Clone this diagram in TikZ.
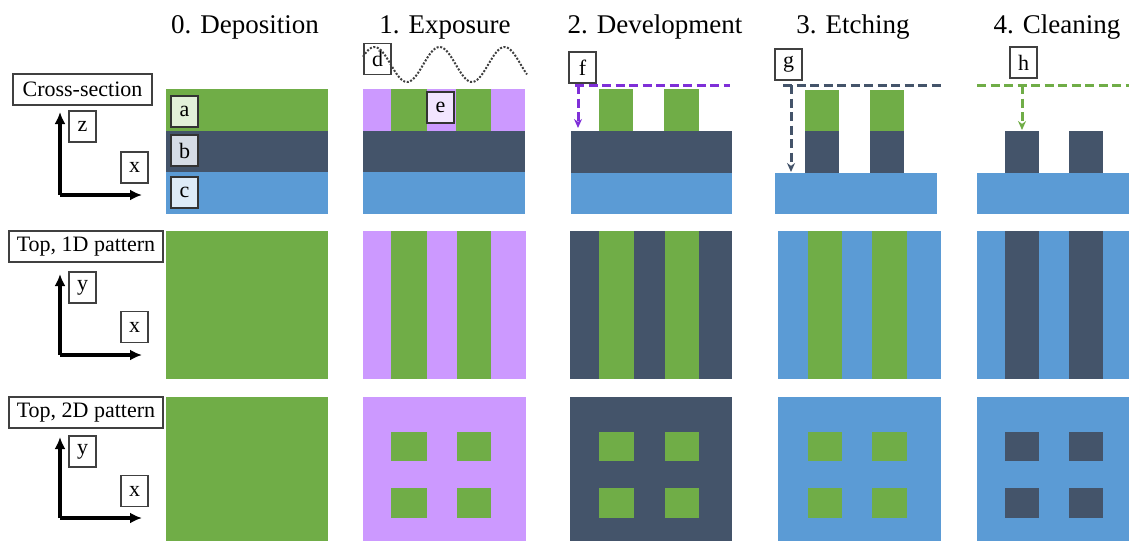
\documentclass[tikz,border=0pt]{standalone}
\usepackage{fontspec}
\setmainfont{Liberation Serif}
\usetikzlibrary{arrows.meta}
\definecolor{cgreen}{HTML}{70AD47}
\definecolor{cslate}{HTML}{44546A}
\definecolor{cblue}{HTML}{5B9BD5}
\definecolor{cpurple}{HTML}{CC99FF}
\definecolor{cviolet}{HTML}{7F2FD8}
\definecolor{boxline}{HTML}{404040}
\definecolor{afill}{HTML}{E2F0D9}
\definecolor{bfill}{HTML}{D6DCE5}
\definecolor{cfill}{HTML}{DEEBF7}
\definecolor{efill}{HTML}{F2E5FF}
\tikzset{
  coltitle/.style={anchor=base, font=\fontsize{27}{30}\selectfont, inner sep=0pt},
  rowlabel/.style={draw=boxline, line width=1.6pt, fill=white, minimum height=31pt, inner sep=0pt, font=\fontsize{22}{24}\selectfont},
  letterbox/.style={draw=boxline, line width=1.6pt, fill=white, minimum width=27pt, minimum height=31pt, inner sep=0pt, font=\fontsize{22}{24}\selectfont},
  layerbox/.style={letterbox, draw=black!80, line width=2pt},
  axisarrow/.style={line width=3.5pt, -{Latex[length=12pt,width=11pt]}},
  processarrow/.style={line width=3pt, dash pattern=on 9pt off 4.5pt, -{Stealth[length=9pt,width=8pt]}},
  processline/.style={line width=3pt, dash pattern=on 9pt off 4.5pt},
  wave/.style={line width=2pt, black!75, dash pattern=on 2pt off 1.6pt}
}
\begin{document}
\begin{tikzpicture}[x=1pt,y=-1pt]
\useasboundingbox (0,0) rectangle (1129,541);

% column titles
\node[coltitle] (t0) at (245,33) {0. Deposition};
\node[coltitle] (t1) at (445,33) {1. Exposure};
\node[coltitle] (t2) at (655,33) {2. Development};
\node[coltitle] (t3) at (853,33) {3. Etching};
\node[coltitle] (t4) at (1057,33) {4. Cleaning};

% ---------- row 1: cross-section ----------
% col 0
\fill[cgreen] (166,89) rectangle (328,131);
\fill[cslate] (166,131) rectangle (328,172);
\fill[cblue]  (166,172) rectangle (328,214);
% col 1
\fill[cpurple] (363,89) rectangle (525,131);
\fill[cgreen] (391,89) rectangle (427,131);
\fill[cgreen] (456,89) rectangle (491,131);
\fill[cslate] (363,131) rectangle (525,172);
\fill[cblue]  (363,172) rectangle (525,214);
% col 2
\fill[cgreen] (599,89) rectangle (633,131);
\fill[cgreen] (664,89) rectangle (699,131);
\fill[cslate] (571,131) rectangle (732,173);
\fill[cblue]  (571,173) rectangle (732,214);
% col 3
\fill[cgreen] (805,90) rectangle (839,131);
\fill[cgreen] (870,90) rectangle (904,131);
\fill[cslate] (805,131) rectangle (839,173);
\fill[cslate] (870,131) rectangle (904,173);
\fill[cblue]  (775,173) rectangle (937,214);
% col 4
\fill[cslate] (1005,131) rectangle (1039,173);
\fill[cslate] (1069,131) rectangle (1103,173);
\fill[cblue]  (977,173) rectangle (1129,214);

% ---------- row 2: top, 1D ----------
\fill[cgreen] (166,231) rectangle (328,379);
\fill[cpurple] (363,231) rectangle (526,379);
\fill[cgreen] (391,231) rectangle (427,379);
\fill[cgreen] (457,231) rectangle (491,379);
\fill[cslate] (570,231) rectangle (732,379);
\fill[cgreen] (599,231) rectangle (634,379);
\fill[cgreen] (665,231) rectangle (699,379);
\fill[cblue] (778,231) rectangle (941,379);
\fill[cgreen] (808,231) rectangle (842,379);
\fill[cgreen] (872,231) rectangle (907,379);
\fill[cblue] (977,231) rectangle (1129,379);
\fill[cslate] (1005,231) rectangle (1039,379);
\fill[cslate] (1069,231) rectangle (1103,379);

% ---------- row 3: top, 2D ----------
\fill[cgreen] (166,397) rectangle (328,541);
\fill[cpurple] (363,397) rectangle (526,541);
\fill[cslate] (570,397) rectangle (732,541);
\fill[cblue] (778,397) rectangle (941,541);
\fill[cblue] (977,397) rectangle (1129,541);
\foreach \ya/\yb in {432/461, 488/518}{
  \fill[cgreen] (391,\ya) rectangle (427,\yb);
  \fill[cgreen] (457,\ya) rectangle (491,\yb);
  \fill[cgreen] (599,\ya) rectangle (634,\yb);
  \fill[cgreen] (665,\ya) rectangle (699,\yb);
  \fill[cgreen] (808,\ya) rectangle (842,\yb);
  \fill[cgreen] (872,\ya) rectangle (907,\yb);
  \fill[cslate] (1005,\ya) rectangle (1039,\yb);
  \fill[cslate] (1069,\ya) rectangle (1103,\yb);
}

% ---------- row labels and axes ----------
\node[rowlabel, minimum width=139pt] (rl1) at (82.5,89.5) {Cross-section};
\node[rowlabel, minimum width=154pt] (rl2) at (86,246.5) {Top, 1D pattern};
\node[rowlabel, minimum width=154pt] (rl3) at (86,412.5) {Top, 2D pattern};

\coordinate (o1) at (60,195); \coordinate (o1u) at (60,112); \coordinate (o1r) at (142,195);
\coordinate (o2) at (60,355); \coordinate (o2u) at (60,274); \coordinate (o2r) at (142,355);
\coordinate (o3) at (60,518); \coordinate (o3u) at (60,437); \coordinate (o3r) at (142,518);
\draw[axisarrow] (o1) -- (o1u);
\draw[axisarrow] (o1) -- (o1r);
\draw[axisarrow] (o2) -- (o2u);
\draw[axisarrow] (o2) -- (o2r);
\draw[axisarrow] (o3) -- (o3u);
\draw[axisarrow] (o3) -- (o3r);
\node[letterbox] (z1) at (82.5,126.5) {z};
\node[letterbox] (x1) at (134.5,167.5) {x};
\node[letterbox] (y2) at (82.5,287.5) {y};
\node[letterbox] (x2) at (134.5,327) {x};
\node[letterbox] (y3) at (82.5,451.5) {y};
\node[letterbox] (x3) at (134.5,491) {x};

% layer labels
\node[layerbox, fill=afill] (la) at (184.5,111) {a};
\node[layerbox, fill=bfill] (lb) at (184.5,150.5) {b};
\node[layerbox, fill=cfill] (lc) at (184.5,192) {c};
\node[layerbox, fill=efill] (le) at (440.5,107.5) {e};

% light wave (exposure)
\draw[wave, domain=363:527, samples=120, smooth] plot (\x, {64.5 + 17.5*cos(5.5385*(\x-407))});
\node[letterbox, fill=none] (ld) at (377.5,59) {d};

% development
\node[letterbox] (lf) at (582.5,67.5) {f};
\coordinate (f1) at (575,85); \coordinate (f2) at (730,85);
\coordinate (f3) at (578,85); \coordinate (f4) at (578,128);
\draw[processline, cviolet] (f1) -- (f2);
\draw[processarrow, cviolet] (f3) -- (f4);

% etching
\node[letterbox] (lg) at (788.5,64.5) {g};
\coordinate (g1) at (783,85); \coordinate (g2) at (942,85);
\coordinate (g3) at (791,85); \coordinate (g4) at (791,172);
\draw[processline, cslate] (g1) -- (g2);
\draw[processarrow, cslate] (g3) -- (g4);

% cleaning
\node[letterbox] (lh) at (1023.5,62.5) {h};
\coordinate (h1) at (977,85); \coordinate (h2) at (1129,85);
\coordinate (h3) at (1022,85); \coordinate (h4) at (1022,130);
\draw[processline, cgreen] (h1) -- (h2);
\draw[processarrow, cgreen] (h3) -- (h4);
\end{tikzpicture}
\end{document}
